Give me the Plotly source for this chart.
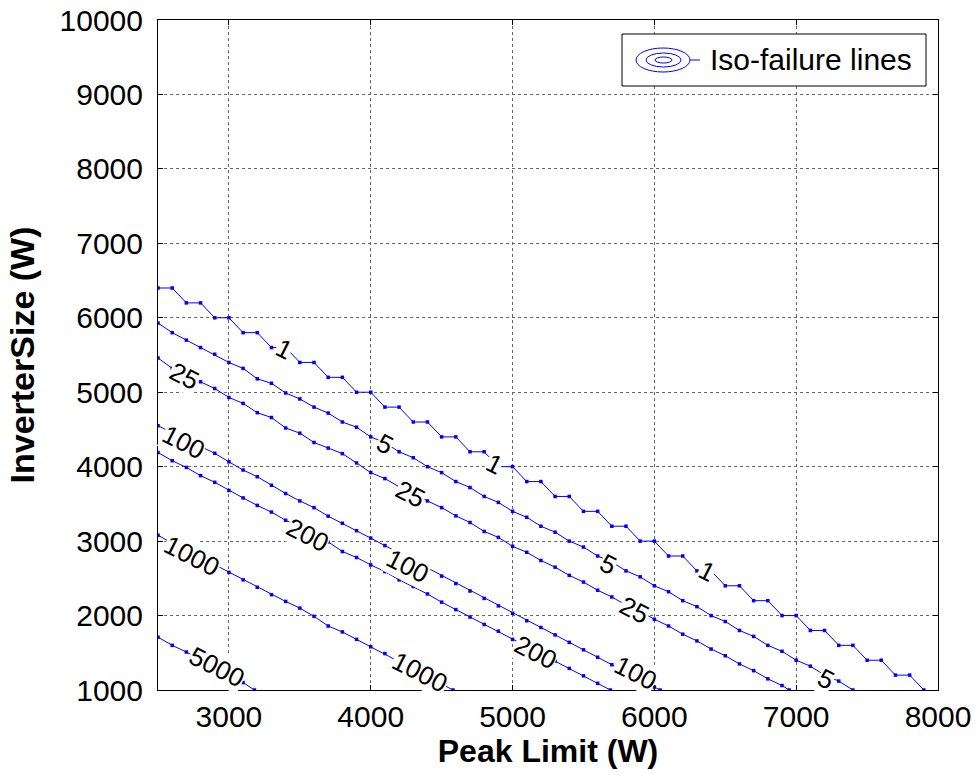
import plotly.graph_objects as go

# ---------------- data ----------------
LEVELS = ["1", "5", "25", "100", "200", "1000", "5000"]

PEAK_1 = [2500, 2600, 2700, 2800, 2900, 3000, 3100, 3200, 3300, 3400, 3500, 3600, 3700, 3800,
          3900, 4000, 4100, 4200, 4300, 4400, 4500, 4600, 4700, 4800, 4900, 5000, 5100, 5200,
          5300, 5400, 5500, 5600, 5700, 5800, 5900, 6000, 6100, 6200, 6300, 6400, 6500, 6600,
          6700, 6800, 6900, 7000, 7100, 7200, 7300, 7400, 7500, 7600, 7700, 7800, 7900]
INV_1 = [6400, 6400, 6200, 6200, 6000, 6000, 5800, 5800, 5600, 5600, 5400, 5400, 5200, 5200,
         5000, 5000, 4800, 4800, 4600, 4600, 4400, 4400, 4200, 4200, 4000, 4000, 3800, 3800,
         3600, 3600, 3400, 3400, 3200, 3200, 3000, 3000, 2800, 2800, 2600, 2600, 2400, 2400,
         2200, 2200, 2000, 2000, 1800, 1800, 1600, 1600, 1400, 1400, 1200, 1200, 1000]

PEAK_5 = [2500, 2600, 2700, 2800, 2900, 3000, 3100, 3200, 3300, 3400, 3500, 3600, 3700, 3800,
          3900, 4000, 4100, 4200, 4300, 4400, 4500, 4600, 4700, 4800, 4900, 5000, 5100, 5200,
          5300, 5400, 5500, 5600, 5700, 5800, 5900, 6000, 6100, 6200, 6300, 6400, 6500, 6600,
          6700, 6800, 6900, 7000, 7100, 7200, 7300, 7400]
INV_5 = [5930, 5800, 5700, 5600, 5510, 5400, 5320, 5180, 5120, 4990, 4910, 4800, 4720, 4600,
         4530, 4400, 4320, 4200, 4120, 4000, 3920, 3800, 3720, 3600, 3520, 3400, 3320, 3200,
         3120, 3000, 2920, 2800, 2720, 2600, 2520, 2400, 2320, 2200, 2120, 2000, 1920, 1800,
         1720, 1600, 1520, 1400, 1320, 1200, 1120, 1000]

PEAK_25 = [2500, 2600, 2700, 2800, 2900, 3000, 3100, 3200, 3300, 3400, 3500, 3600, 3700, 3800,
           3900, 4000, 4100, 4200, 4300, 4400, 4500, 4600, 4700, 4800, 4900, 5000, 5100, 5200,
           5300, 5400, 5500, 5600, 5700, 5800, 5900, 6000, 6100, 6200, 6300, 6400, 6500, 6600,
           6700, 6800, 6900, 6950]
INV_25 = [5460, 5320, 5230, 5140, 5050, 4930, 4850, 4725, 4660, 4520, 4450, 4325, 4250, 4175,
          4050, 3920, 3840, 3730, 3650, 3540, 3450, 3340, 3250, 3130, 3050, 2930, 2850, 2740,
          2650, 2540, 2450, 2340, 2250, 2140, 2060, 1950, 1860, 1750, 1660, 1550, 1460, 1350,
          1260, 1150, 1060, 1000]

PEAK_100 = [2500, 2600, 2700, 2800, 2900, 3000, 3100, 3200, 3300, 3400, 3500, 3600, 3700, 3800,
            3900, 4000, 4100, 4200, 4300, 4400, 4500, 4600, 4700, 4800, 4900, 5000, 5100, 5200,
            5300, 5400, 5500, 5600, 5700, 5800, 5900, 6000, 6040]
INV_100 = [4550, 4450, 4360, 4270, 4180, 4065, 3955, 3865, 3750, 3640, 3540, 3450, 3335, 3240,
           3140, 3040, 2940, 2840, 2740, 2630, 2530, 2430, 2330, 2230, 2130, 2030, 1930, 1840,
           1740, 1640, 1540, 1440, 1340, 1240, 1140, 1040, 1000]

PEAK_200 = [2500, 2600, 2700, 2800, 2900, 3000, 3100, 3200, 3300, 3400, 3500, 3600, 3700, 3800,
            3900, 4000, 4100, 4200, 4300, 4400, 4500, 4600, 4700, 4800, 4900, 5000, 5100, 5200,
            5300, 5400, 5500, 5600, 5690]
INV_200 = [4190, 4080, 3990, 3880, 3790, 3680, 3580, 3480, 3390, 3280, 3190, 3080, 2990, 2860,
           2780, 2680, 2590, 2480, 2390, 2290, 2180, 2080, 1980, 1880, 1790, 1680, 1590, 1480,
           1390, 1290, 1190, 1090, 1000]

PEAK_1000 = [2500, 2600, 2700, 2800, 2900, 3000, 3100, 3200, 3300, 3400, 3500, 3600, 3700, 3800,
             3900, 4000, 4100, 4200, 4300, 4400, 4500, 4580]
INV_1000 = [3080, 2970, 2880, 2780, 2680, 2580, 2480, 2380, 2280, 2190, 2100, 1990, 1860, 1780,
            1680, 1580, 1490, 1390, 1290, 1180, 1080, 1000]

PEAK_5000 = [2500, 2600, 2700, 2800, 2900, 3000, 3100, 3180]
INV_5000 = [1710, 1600, 1510, 1410, 1300, 1200, 1100, 1000]

# contour labels
LABEL_TEXT = ["1", "1", "1", "5", "5", "5", "25", "25", "25", "100", "100", "100",
              "200", "200", "1000", "1000", "5000"]
LABEL_X = [3390, 4870, 6370, 4100, 5670, 7210, 2685, 4280, 5860, 2680, 4260, 5870,
           3555, 5160, 2740, 4345, 2915]
LABEL_Y = [5580, 4030, 2600, 4310, 2690, 1150, 5220, 3635, 2075, 4330, 2665, 1230,
           3080, 1510, 2800, 1240, 1310]

X_TICKS = [3000, 4000, 5000, 6000, 7000, 8000]
Y_TICKS = [1000, 2000, 3000, 4000, 5000, 6000, 7000, 8000, 9000, 10000]

LEGEND_TEXT = "Iso-failure lines"

# ---------------- figure ----------------
FONT = "Arial, Liberation Sans, Helvetica, sans-serif"
BLUE = "#0000FF"

W, H = 978, 775
L, R, T, B = 158, 40, 20, 85
PW, PH = W - L - R, H - T - B


def px(xp):
    return (xp - L) / PW


def py(yp):
    return (H - B - yp) / PH


fig = go.Figure()

series = [(PEAK_1, INV_1), (PEAK_5, INV_5), (PEAK_25, INV_25), (PEAK_100, INV_100),
          (PEAK_200, INV_200), (PEAK_1000, INV_1000), (PEAK_5000, INV_5000)]
for name, (xs, ys) in zip(LEVELS, series):
    fig.add_trace(go.Scatter(
        x=xs, y=ys, mode="lines+markers", name=name, showlegend=False,
        line=dict(color=BLUE, width=1),
        marker=dict(color=BLUE, size=3.5, symbol="square"),
        hoverinfo="skip"))

for t, x, y in zip(LABEL_TEXT, LABEL_X, LABEL_Y):
    fig.add_annotation(x=x, y=y, xref="x", yref="y", text=t, showarrow=False,
                       textangle=27, bgcolor="white", borderpad=0,
                       font=dict(family=FONT, size=26, color="black"))

# custom legend (MATLAB contour style icon)
shapes = [
    dict(type="rect", xref="paper", yref="paper", x0=px(622), x1=px(926), y0=py(86), y1=py(34),
         line=dict(color="black", width=1), fillcolor="white", layer="above"),
    dict(type="circle", xref="paper", yref="paper", x0=px(636), x1=px(690), y0=py(72), y1=py(48),
         line=dict(color=BLUE, width=1), layer="above"),
    dict(type="circle", xref="paper", yref="paper", x0=px(646), x1=px(681), y0=py(67), y1=py(53),
         line=dict(color=BLUE, width=1), layer="above"),
    dict(type="circle", xref="paper", yref="paper", x0=px(655), x1=px(672), y0=py(63), y1=py(57),
         line=dict(color=BLUE, width=1), layer="above"),
    dict(type="line", xref="paper", yref="paper", x0=px(690), x1=px(700), y0=py(60), y1=py(60),
         line=dict(color=BLUE, width=1), layer="above"),
]
fig.update_layout(shapes=shapes)
fig.add_annotation(x=px(708), y=py(60), xref="paper", yref="paper", text=LEGEND_TEXT,
                   showarrow=False, xanchor="left", yanchor="middle",
                   font=dict(family=FONT, size=30, color="black"))

axis_common = dict(
    showline=True, linecolor="black", linewidth=1, mirror="ticks",
    ticks="inside", ticklen=5, tickcolor="black", tickwidth=1,
    showgrid=True, gridcolor="#666666", griddash="dot", gridwidth=1,
    zeroline=False, tickfont=dict(family=FONT, size=30, color="black"),
)

fig.update_xaxes(range=[2500, 8000], tickvals=X_TICKS, ticktext=[str(v) for v in X_TICKS],
                 title=dict(text="<b>Peak Limit (W)</b>", standoff=6,
                            font=dict(family=FONT, size=32, color="black")),
                 **axis_common)
fig.update_yaxes(range=[1000, 10000], tickvals=Y_TICKS, ticktext=[str(v) for v in Y_TICKS],
                 title=dict(text="<b>InverterSize (W)</b>", standoff=14,
                            font=dict(family=FONT, size=34, color="black")),
                 ticklabelstandoff=8,
                 **axis_common)

fig.update_layout(width=W, height=H, margin=dict(l=L, r=R, t=T, b=B, autoexpand=False),
                  paper_bgcolor="white", plot_bgcolor="white", showlegend=False)

fig.write_html("out.html")
